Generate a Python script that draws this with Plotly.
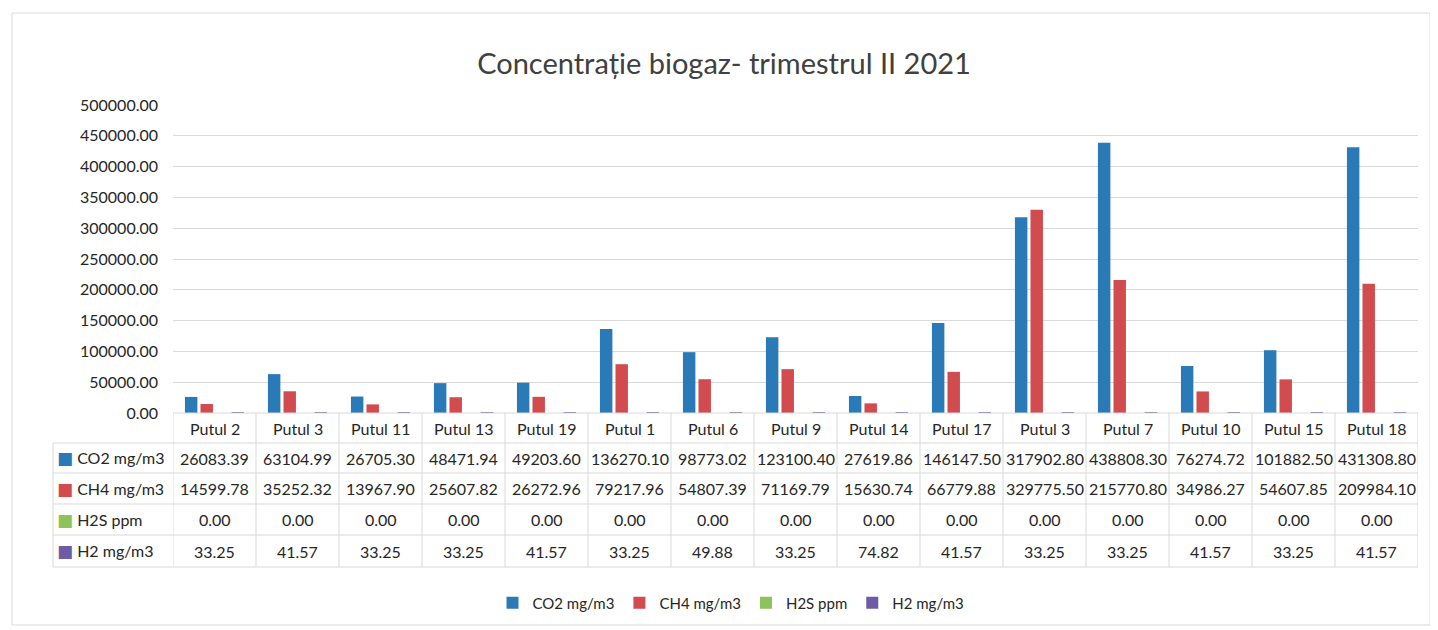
import plotly.graph_objects as go

# page body adds an 8px offset; figure is sized to fit the window
OFF = 8
W, H = 1430, 622

categories = ["Putul 2", "Putul 3", "Putul 11", "Putul 13", "Putul 19", "Putul 1", "Putul 6",
              "Putul 9", "Putul 14", "Putul 17", "Putul 3", "Putul 7", "Putul 10", "Putul 15", "Putul 18"]
co2 = [26083.39, 63104.99, 26705.30, 48471.94, 49203.60, 136270.10, 98773.02, 123100.40,
       27619.86, 146147.50, 317902.80, 438808.30, 76274.72, 101882.50, 431308.80]
ch4 = [14599.78, 35252.32, 13967.90, 25607.82, 26272.96, 79217.96, 54807.39, 71169.79,
       15630.74, 66779.88, 329775.50, 215770.80, 34986.27, 54607.85, 209984.10]
h2s = [0.00] * 15
h2 = [33.25, 41.57, 33.25, 33.25, 41.57, 33.25, 49.88, 33.25, 74.82, 41.57, 33.25, 33.25,
      41.57, 33.25, 41.57]
series_names = ["CO2 mg/m3", "CH4 mg/m3", "H2S ppm", "H2 mg/m3"]
series_values = [co2, ch4, h2s, h2]
colors = ["#2A7AB8", "#D24B4E", "#8DC25C", "#6E5BA6"]
title = "Concentrație biogaz- trimestrul II 2021"
y_ticks = [0, 50000, 100000, 150000, 200000, 250000, 300000, 350000, 400000, 450000, 500000]

FONT = "Lato"
TXT = "#262626"
GRID = "#D9D9D9"

def py(px):
    return 1 - (px - OFF) / H

def pxx(px):
    return (px - OFF) / W

idx = list(range(len(categories)))

fig = go.Figure()
for name, vals, col in zip(series_names, series_values, colors):
    fig.add_trace(go.Bar(x=idx, y=vals, name=name, marker_color=col, marker_line_width=0))

# layout geometry (screen pixels)
plot_left, plot_right = 173, 1418
y0_px, ytop_px = 413, 105
row_lines = [413, 443, 473, 504, 535, 567]
label_left = 53

fig.update_layout(
    width=W, height=H,
    margin=dict(l=0, r=0, t=0, b=0, autoexpand=False),
    paper_bgcolor="white", plot_bgcolor="white",
    barmode="group", bargap=0.25, bargroupgap=0.2,
    font=dict(family=FONT, color=TXT, size=15),
    title=dict(text=title, x=pxx(724), y=py(64), xanchor="center", yanchor="middle",
               xref="paper", yref="paper", font=dict(size=29, color="#404040", family=FONT)),
    showlegend=True,
    legend=dict(orientation="h", x=pxx(731), xanchor="center", y=py(603), yanchor="middle",
                font=dict(size=15, color=TXT), itemwidth=30, traceorder="normal"),
    xaxis=dict(domain=[pxx(plot_left), pxx(plot_right)], range=[-0.5, len(categories) - 0.5],
               showticklabels=False, showgrid=False, zeroline=False, showline=False, ticks=""),
    yaxis=dict(domain=[py(y0_px), py(ytop_px)], range=[0, 500000], tickvals=y_ticks,
               ticktext=[f"{v:.2f}" for v in y_ticks], showgrid=True, gridcolor=GRID, gridwidth=1,
               zeroline=False, showline=False, ticks="", ticklabelstandoff=14,
               tickfont=dict(size=16, color=TXT, family=FONT)),
)

shapes = []
# outer border
shapes.append(dict(type="rect", xref="paper", yref="paper", x0=pxx(12), x1=pxx(1430),
                   y0=py(625), y1=py(13), line=dict(color=GRID, width=1), layer="below"))
# table horizontal lines
for k, ypx in enumerate(row_lines):
    if k == 0:
        shapes.append(dict(type="line", xref="x", yref="paper", x0=-0.5, x1=len(categories) - 0.5,
                           y0=py(ypx), y1=py(ypx), line=dict(color=GRID, width=1)))
    else:
        shapes.append(dict(type="line", xref="paper", yref="paper", x0=pxx(label_left),
                           x1=pxx(plot_right), y0=py(ypx), y1=py(ypx), line=dict(color=GRID, width=1)))
# vertical lines
for i in range(len(categories) + 1):
    shapes.append(dict(type="line", xref="x", yref="paper", x0=i - 0.5, x1=i - 0.5,
                       y0=py(row_lines[0]), y1=py(row_lines[-1]), line=dict(color=GRID, width=1)))
shapes.append(dict(type="line", xref="paper", yref="paper", x0=pxx(label_left), x1=pxx(label_left),
                   y0=py(row_lines[1]), y1=py(row_lines[-1]), line=dict(color=GRID, width=1)))

annotations = []
# header row
hy = (row_lines[0] + row_lines[1]) / 2
for i, c in enumerate(categories):
    annotations.append(dict(x=i, y=py(hy), xref="x", yref="paper", text=c, showarrow=False,
                            xanchor="center", yanchor="middle", font=dict(size=16, color=TXT)))
# data rows
for r, (name, vals, col) in enumerate(zip(series_names, series_values, colors)):
    ry = (row_lines[r + 1] + row_lines[r + 2]) / 2
    annotations.append(dict(x=pxx(55), y=py(ry), xref="paper", yref="paper",
                            text=f"<span style='color:{col};font-size:17px;font-family:DejaVu Sans'>■</span> {name}",
                            showarrow=False, xanchor="left", yanchor="middle",
                            font=dict(size=16, color=TXT)))
    for i, v in enumerate(vals):
        annotations.append(dict(x=i, y=py(ry), xref="x", yref="paper", text=f"{v:.2f}",
                                showarrow=False, xanchor="center", yanchor="middle",
                                font=dict(size=16, color=TXT)))

fig.update_layout(shapes=shapes, annotations=annotations)
fig.write_html("out.html")
